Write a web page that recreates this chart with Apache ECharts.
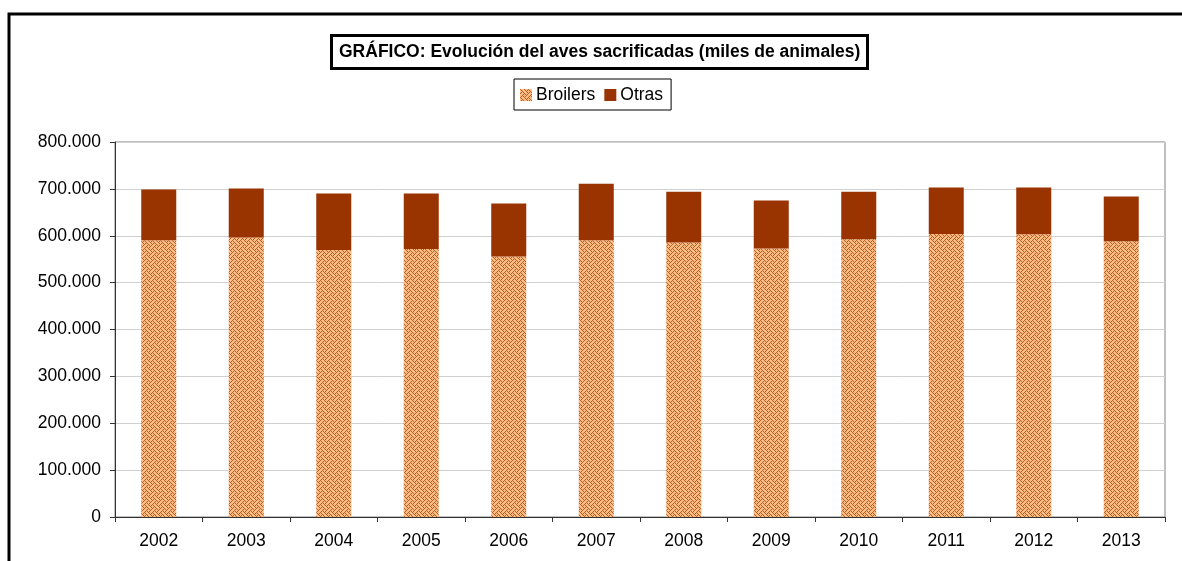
<!DOCTYPE html>
<html>
<head>
<meta charset="utf-8">
<script src="https://cdn.jsdelivr.net/npm/echarts@6/dist/echarts.min.js"></script>
<style>
html, body { margin: 0; padding: 0; background: #fff; }
#grafico { width: 1182px; height: 561px; }
</style>
</head>
<body>
<div id="grafico"></div>
<script>
var anios = ['2002', '2003', '2004', '2005', '2006', '2007', '2008', '2009', '2010', '2011', '2012', '2013'];
var broilers = [590600, 596400, 569400, 571500, 556000, 590600, 585700, 573000, 592800, 604000, 603400, 588500];
var otras = [108000, 104200, 120600, 118500, 112700, 120400, 108300, 102000, 101200, 98800, 99400, 95100];
var ejeY = [0, 100000, 200000, 300000, 400000, 500000, 600000, 700000, 800000];

// trama tipo "tejido" de Excel para los broilers
function crearTrama() {
    var filas = [
        '10001000',
        '01000101',
        '00100010',
        '01010001',
        '10001000',
        '00010101',
        '00100010',
        '01010100'
    ];
    var c = document.createElement('canvas');
    c.width = 8;
    c.height = 8;
    var ctx = c.getContext('2d');
    ctx.fillStyle = '#f9bd84';
    ctx.fillRect(0, 0, 8, 8);
    for (var y = 0; y < 8; y++) {
        for (var x = 0; x < 8; x++) {
            if (filas[y].charAt(x) === '1') {
                ctx.fillStyle = '#c25a25';
                ctx.fillRect(x, y, 1, 1);
            }
        }
    }
    return c;
}

function formatoMiles(v) {
    return String(v).replace(/\B(?=(\d{3})+(?!\d))/g, '.');
}

var grafico = echarts.init(document.getElementById('grafico'));

grafico.setOption({
    animation: false,
    textStyle: { fontFamily: 'Liberation Sans, Arial, sans-serif' },
    graphic: [{
        type: 'rect',
        shape: { x: 9, y: 14, width: 1300, height: 700 },
        style: { fill: 'none', stroke: '#000', lineWidth: 3 },
        z: 0
    }],
    title: {
        text: 'GRÁFICO: Evolución del aves sacrificadas (miles de animales)',
        left: 331,
        top: 35,
        padding: [8, 7, 8, 8],
        borderColor: '#000',
        borderWidth: 3,
        textStyle: { fontSize: 17.5, fontWeight: 'bold', color: '#000' }
    },
    legend: {
        data: ['Broilers', 'Otras'],
        left: 514,
        top: 79,
        padding: [7, 8, 6, 6],
        borderColor: '#000',
        borderWidth: 1,
        itemWidth: 12,
        itemHeight: 12,
        itemGap: 9,
        icon: 'rect',
        textStyle: { fontSize: 17.5, color: '#000', padding: [0, 0, 0, -1] }
    },
    grid: {
        left: 115,
        top: 142,
        right: 17,
        bottom: 44,
        show: true,
        borderColor: '#808080',
        borderWidth: 1
    },
    xAxis: {
        type: 'category',
        data: anios,
        axisLine: { lineStyle: { color: '#333', width: 1 } },
        axisTick: { show: true, length: 5, lineStyle: { color: '#333' } },
        axisLabel: { fontSize: 17.5, color: '#000', margin: 15 }
    },
    yAxis: {
        type: 'value',
        min: ejeY[0],
        max: ejeY[ejeY.length - 1],
        interval: ejeY[1] - ejeY[0],
        axisLine: { show: true, lineStyle: { color: '#333', width: 1 } },
        axisTick: { show: true, length: 5, lineStyle: { color: '#333' } },
        axisLabel: { fontSize: 17.5, color: '#000', margin: 14, formatter: formatoMiles },
        splitLine: { lineStyle: { color: '#d0d0d0' } }
    },
    series: [{
        name: 'Broilers',
        type: 'bar',
        stack: 'aves',
        barWidth: 35,
        itemStyle: { color: { image: crearTrama(), repeat: 'repeat' } },
        data: broilers
    }, {
        name: 'Otras',
        type: 'bar',
        stack: 'aves',
        barWidth: 35,
        itemStyle: { color: '#993300' },
        data: otras
    }]
});
</script>
</body>
</html>
